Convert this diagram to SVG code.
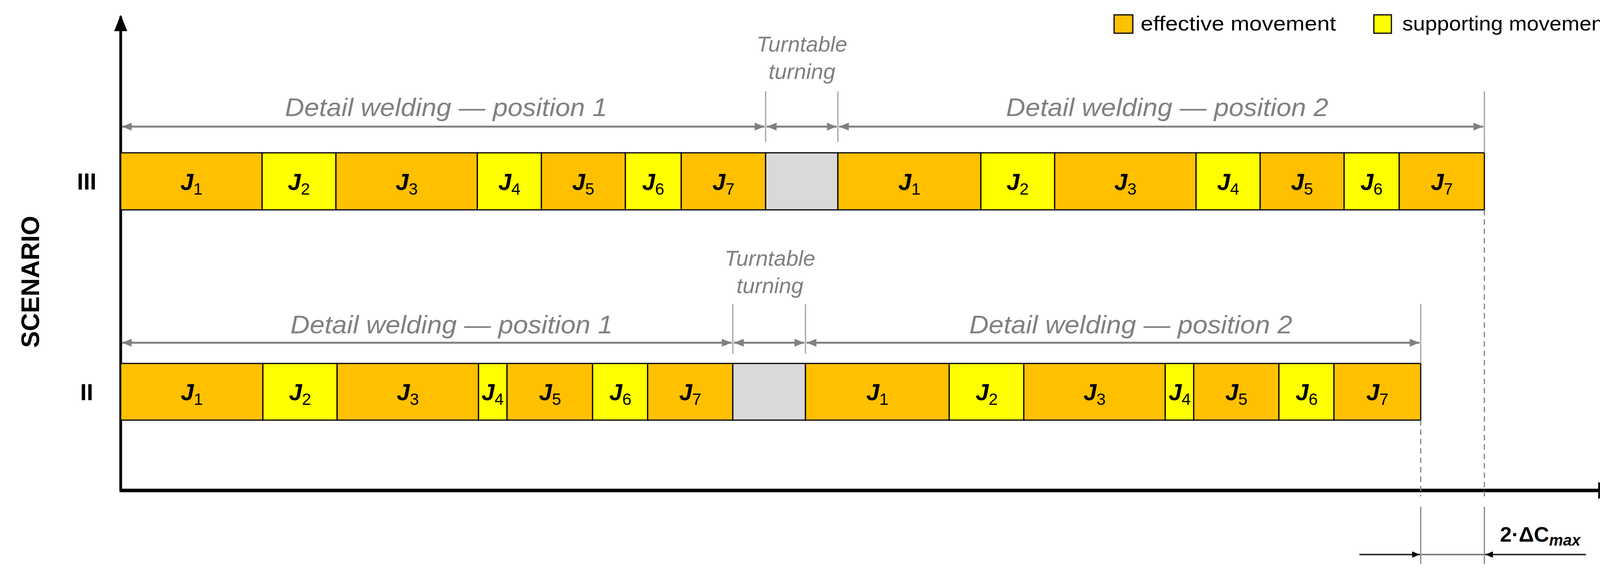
<svg xmlns="http://www.w3.org/2000/svg" width="4233" height="1479" viewBox="0 0 4233 1479">
<style>
.o{fill:#FFC000;stroke:#000;stroke-width:3}
.y{fill:#FFFF00;stroke:#000;stroke-width:3}
.g{fill:#D9D9D9;stroke:#000;stroke-width:3}
.j{font-family:"Liberation Sans",sans-serif;font-weight:bold;font-style:italic;font-size:60px;text-anchor:middle}
.j tspan{font-size:42px;font-style:normal;font-weight:normal}
.lbl{font-family:"Liberation Sans",sans-serif;font-style:italic;font-size:64px;fill:#808080;text-anchor:middle}
.tt{font-family:"Liberation Sans",sans-serif;font-style:italic;font-size:56px;fill:#808080;text-anchor:middle}
.dim{stroke:#808080;stroke-width:5;fill:none}
.tick{stroke:#A0A0A0;stroke-width:3}
.leg{font-family:"Liberation Sans",sans-serif;font-size:52px;fill:#000}
</style>
<defs>
<marker id="ga" viewBox="0 0 10 10" refX="10" refY="5" markerWidth="5" markerHeight="5" orient="auto-start-reverse"><path d="M0,1 L10,5 L0,9 Z" fill="#808080"/></marker>
<marker id="ba" viewBox="0 0 10 10" refX="10" refY="5" markerWidth="5" markerHeight="5" orient="auto-start-reverse"><path d="M0,1 L10,5 L0,9 Z" fill="#000"/></marker>
<marker id="ax" viewBox="0 0 10 10" refX="9" refY="5" markerWidth="6" markerHeight="6" orient="auto"><path d="M0,1 L10,5 L0,9 Z" fill="#000"/></marker>
</defs>
<rect width="4233" height="1479" fill="#fff"/>
<g id="axes">
<line x1="309" y1="1255" x2="309" y2="42" stroke="#000" stroke-width="7" marker-end="url(#ax)"/>
<line x1="306" y1="1255" x2="4140" y2="1255" stroke="#000" stroke-width="9" marker-end="url(#ax)"/>
<text x="4115" y="1320" font-family="Liberation Sans,sans-serif" font-weight="bold" font-style="italic" font-size="60" text-anchor="middle">t</text>
<text transform="translate(100,721) rotate(-90)" font-family="Liberation Sans,sans-serif" font-weight="bold" font-size="64" text-anchor="middle">SCENARIO</text>
<text x="222" y="485" font-family="Liberation Sans,sans-serif" font-weight="bold" font-size="60" text-anchor="middle">III</text>
<text x="222" y="1024" font-family="Liberation Sans,sans-serif" font-weight="bold" font-size="60" text-anchor="middle">II</text>
</g>
<g id="legend">
<rect x="2852" y="38" width="48" height="47" class="o"/>
<text x="2920" y="78" class="leg" textLength="500" lengthAdjust="spacingAndGlyphs">effective movement</text>
<rect x="3517" y="38" width="45" height="47" class="y"/>
<text x="3590" y="78" class="leg" textLength="530" lengthAdjust="spacingAndGlyphs">supporting movement</text>
</g>
<g id="row3">
<rect x="309" y="391" width="362" height="146" class="o"/><rect x="671" y="391" width="189" height="146" class="y"/><rect x="860" y="391" width="362" height="146" class="o"/><rect x="1222" y="391" width="164" height="146" class="y"/><rect x="1386" y="391" width="215" height="146" class="o"/><rect x="1601" y="391" width="143" height="146" class="y"/><rect x="1744" y="391" width="216" height="146" class="o"/>
<rect x="1960" y="391" width="185" height="146" class="g"/>
<rect x="2145" y="391" width="366" height="146" class="o"/><rect x="2511" y="391" width="189" height="146" class="y"/><rect x="2700" y="391" width="362" height="146" class="o"/><rect x="3062" y="391" width="164" height="146" class="y"/><rect x="3226" y="391" width="215" height="146" class="o"/><rect x="3441" y="391" width="141" height="146" class="y"/><rect x="3582" y="391" width="218" height="146" class="o"/>
<text class="j" y="486" x="490">J<tspan dy="12">1</tspan></text>
<text class="j" y="486" x="765">J<tspan dy="12">2</tspan></text>
<text class="j" y="486" x="1041">J<tspan dy="12">3</tspan></text>
<text class="j" y="486" x="1304">J<tspan dy="12">4</tspan></text>
<text class="j" y="486" x="1493">J<tspan dy="12">5</tspan></text>
<text class="j" y="486" x="1672">J<tspan dy="12">6</tspan></text>
<text class="j" y="486" x="1852">J<tspan dy="12">7</tspan></text>
<text class="j" y="486" x="2328">J<tspan dy="12">1</tspan></text>
<text class="j" y="486" x="2605">J<tspan dy="12">2</tspan></text>
<text class="j" y="486" x="2881">J<tspan dy="12">3</tspan></text>
<text class="j" y="486" x="3144">J<tspan dy="12">4</tspan></text>
<text class="j" y="486" x="3333">J<tspan dy="12">5</tspan></text>
<text class="j" y="486" x="3511">J<tspan dy="12">6</tspan></text>
<text class="j" y="486" x="3691">J<tspan dy="12">7</tspan></text>
</g>
<g id="row2">
<rect x="309" y="930" width="364" height="145" class="o"/><rect x="673" y="930" width="190" height="145" class="y"/><rect x="863" y="930" width="362" height="145" class="o"/><rect x="1225" y="930" width="73" height="145" class="y"/><rect x="1298" y="930" width="219" height="145" class="o"/><rect x="1517" y="930" width="141" height="145" class="y"/><rect x="1658" y="930" width="218" height="145" class="o"/>
<rect x="1876" y="930" width="186" height="145" class="g"/>
<rect x="2062" y="930" width="368" height="145" class="o"/><rect x="2430" y="930" width="191" height="145" class="y"/><rect x="2621" y="930" width="362" height="145" class="o"/><rect x="2983" y="930" width="73" height="145" class="y"/><rect x="3056" y="930" width="218" height="145" class="o"/><rect x="3274" y="930" width="141" height="145" class="y"/><rect x="3415" y="930" width="222" height="145" class="o"/>
<text class="j" y="1024" x="491">J<tspan dy="12">1</tspan></text>
<text class="j" y="1024" x="768">J<tspan dy="12">2</tspan></text>
<text class="j" y="1024" x="1044">J<tspan dy="12">3</tspan></text>
<text class="j" y="1024" x="1261">J<tspan dy="12">4</tspan></text>
<text class="j" y="1024" x="1408">J<tspan dy="12">5</tspan></text>
<text class="j" y="1024" x="1588">J<tspan dy="12">6</tspan></text>
<text class="j" y="1024" x="1767">J<tspan dy="12">7</tspan></text>
<text class="j" y="1024" x="2246">J<tspan dy="12">1</tspan></text>
<text class="j" y="1024" x="2526">J<tspan dy="12">2</tspan></text>
<text class="j" y="1024" x="2802">J<tspan dy="12">3</tspan></text>
<text class="j" y="1024" x="3020">J<tspan dy="12">4</tspan></text>
<text class="j" y="1024" x="3165">J<tspan dy="12">5</tspan></text>
<text class="j" y="1024" x="3345">J<tspan dy="12">6</tspan></text>
<text class="j" y="1024" x="3526">J<tspan dy="12">7</tspan></text>
</g>
<g id="labels">
<text class="lbl" x="1142" y="297" textLength="825" lengthAdjust="spacingAndGlyphs">Detail welding — position  1</text>
<text class="lbl" x="2988" y="297" textLength="825" lengthAdjust="spacingAndGlyphs">Detail welding — position  2</text>
<text class="tt" x="2053" y="132">Turntable</text>
<text class="tt" x="2053" y="202">turning</text>
<text class="lbl" x="1156" y="853" textLength="825" lengthAdjust="spacingAndGlyphs">Detail welding — position  1</text>
<text class="lbl" x="2895" y="853" textLength="827" lengthAdjust="spacingAndGlyphs">Detail welding — position  2</text>
<text class="tt" x="1971" y="680">Turntable</text>
<text class="tt" x="1971" y="750">turning</text>
<text x="3840" y="1386" font-family="Liberation Sans,sans-serif" font-weight="bold" font-size="54">2·ΔC<tspan font-style="italic" font-size="40" dy="10">max</tspan></text>
</g>
<g id="connectors">
<line class="tick" x1="1960" y1="234" x2="1960" y2="363"/>
<line class="tick" x1="2145" y1="234" x2="2145" y2="363"/>
<line class="tick" x1="3800" y1="234" x2="3800" y2="391"/>
<line class="dim" x1="312" y1="324" x2="1957" y2="324" marker-start="url(#ga)" marker-end="url(#ga)"/>
<line class="dim" x1="1963" y1="324" x2="2142" y2="324" marker-start="url(#ga)" marker-end="url(#ga)"/>
<line class="dim" x1="2148" y1="324" x2="3797" y2="324" marker-start="url(#ga)" marker-end="url(#ga)"/>
<line class="tick" x1="1876" y1="778" x2="1876" y2="905"/>
<line class="tick" x1="2062" y1="778" x2="2062" y2="905"/>
<line class="tick" x1="3637" y1="778" x2="3637" y2="930"/>
<line class="dim" x1="312" y1="877" x2="1873" y2="877" marker-start="url(#ga)" marker-end="url(#ga)"/>
<line class="dim" x1="1879" y1="877" x2="2059" y2="877" marker-start="url(#ga)" marker-end="url(#ga)"/>
<line class="dim" x1="2065" y1="877" x2="3634" y2="877" marker-start="url(#ga)" marker-end="url(#ga)"/>
<line x1="3800" y1="537" x2="3800" y2="1270" stroke="#808080" stroke-width="3" stroke-dasharray="14,10"/>
<line x1="3637" y1="1075" x2="3637" y2="1270" stroke="#808080" stroke-width="3" stroke-dasharray="14,10"/>
<line x1="3637" y1="1297" x2="3637" y2="1443" stroke="#808080" stroke-width="3"/>
<line x1="3800" y1="1297" x2="3800" y2="1443" stroke="#808080" stroke-width="3"/>
<line x1="3637" y1="1419" x2="3800" y2="1419" stroke="#808080" stroke-width="4"/>
<line x1="3480" y1="1419" x2="3635" y2="1419" stroke="#333" stroke-width="4" marker-end="url(#ba)"/>
<line x1="4060" y1="1419" x2="3802" y2="1419" stroke="#333" stroke-width="4" marker-end="url(#ba)"/>
</g>
</svg>
